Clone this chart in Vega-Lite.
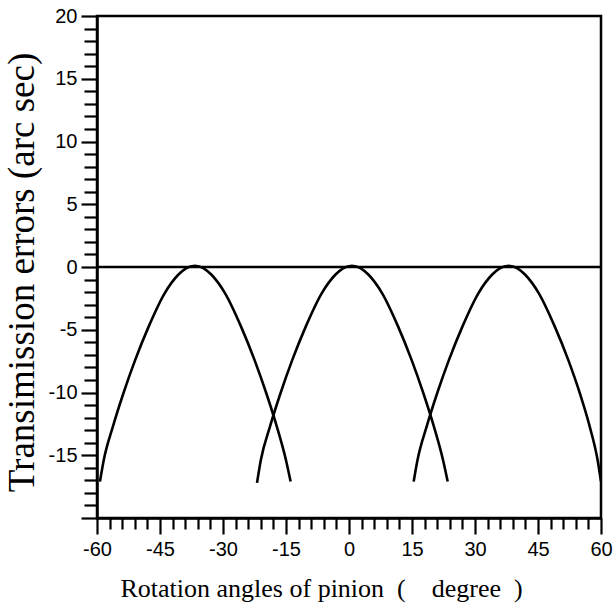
{
  "$schema": "https://vega.github.io/schema/vega-lite/v6.json",
  "autosize": "none",
  "padding": {"left": 97, "top": 16, "right": 12, "bottom": 90},
  "width": 504,
  "height": 502,
  "background": "white",
  "config": {
    "view": {"stroke": "black", "strokeWidth": 2.5},
    "axis": {"grid": false, "domainColor": "black", "domainWidth": 2.5, "tickColor": "black", "tickWidth": 2.2, "labelColor": "black", "titleColor": "black", "labelFont": "Liberation Sans", "labelFontSize": 20, "titleFont": "Liberation Serif", "titleFontWeight": "normal"}
  },
  "data": {"values": [
    {"s": "base", "x": -60, "y": 0},
    {"s": "base", "x": 60, "y": 0},
    {"s": "c1", "x": -59.3, "y": -17.1},
    {"s": "c1", "x": -58.4, "y": -15.4},
    {"s": "c1", "x": -56.2, "y": -12.7},
    {"s": "c1", "x": -53.75, "y": -10.1},
    {"s": "c1", "x": -50.9, "y": -7.4},
    {"s": "c1", "x": -47.7, "y": -4.75},
    {"s": "c1", "x": -43.9, "y": -2.1},
    {"s": "c1", "x": -40.6, "y": -0.6},
    {"s": "c1", "x": -38.8, "y": -0.1},
    {"s": "c1", "x": -36.7, "y": 0.1},
    {"s": "c1", "x": -34.6, "y": -0.1},
    {"s": "c1", "x": -32.8, "y": -0.6},
    {"s": "c1", "x": -29.5, "y": -2.1},
    {"s": "c1", "x": -25.7, "y": -4.75},
    {"s": "c1", "x": -22.5, "y": -7.4},
    {"s": "c1", "x": -19.65, "y": -10.1},
    {"s": "c1", "x": -17.2, "y": -12.7},
    {"s": "c1", "x": -15.0, "y": -15.4},
    {"s": "c1", "x": -13.9, "y": -17.1},
    {"s": "c2", "x": -21.9, "y": -17.2},
    {"s": "c2", "x": -21.0, "y": -15.4},
    {"s": "c2", "x": -18.8, "y": -12.7},
    {"s": "c2", "x": -16.35, "y": -10.1},
    {"s": "c2", "x": -13.5, "y": -7.4},
    {"s": "c2", "x": -10.3, "y": -4.75},
    {"s": "c2", "x": -6.5, "y": -2.1},
    {"s": "c2", "x": -3.2, "y": -0.6},
    {"s": "c2", "x": -1.4, "y": -0.1},
    {"s": "c2", "x": 0.7, "y": 0.1},
    {"s": "c2", "x": 2.8, "y": -0.1},
    {"s": "c2", "x": 4.6, "y": -0.6},
    {"s": "c2", "x": 7.9, "y": -2.1},
    {"s": "c2", "x": 11.7, "y": -4.75},
    {"s": "c2", "x": 14.9, "y": -7.4},
    {"s": "c2", "x": 17.75, "y": -10.1},
    {"s": "c2", "x": 20.2, "y": -12.7},
    {"s": "c2", "x": 22.4, "y": -15.4},
    {"s": "c2", "x": 23.5, "y": -17.1},
    {"s": "c3", "x": 15.4, "y": -17.1},
    {"s": "c3", "x": 16.3, "y": -15.4},
    {"s": "c3", "x": 18.5, "y": -12.7},
    {"s": "c3", "x": 20.95, "y": -10.1},
    {"s": "c3", "x": 23.8, "y": -7.4},
    {"s": "c3", "x": 27.0, "y": -4.75},
    {"s": "c3", "x": 30.8, "y": -2.1},
    {"s": "c3", "x": 34.1, "y": -0.6},
    {"s": "c3", "x": 35.9, "y": -0.1},
    {"s": "c3", "x": 38.0, "y": 0.1},
    {"s": "c3", "x": 40.1, "y": -0.1},
    {"s": "c3", "x": 41.9, "y": -0.6},
    {"s": "c3", "x": 45.2, "y": -2.1},
    {"s": "c3", "x": 49.0, "y": -4.75},
    {"s": "c3", "x": 52.2, "y": -7.4},
    {"s": "c3", "x": 55.0, "y": -10.1},
    {"s": "c3", "x": 57.3, "y": -12.7},
    {"s": "c3", "x": 59.2, "y": -15.4},
    {"s": "c3", "x": 60.0, "y": -17.1}
  ]},
  "mark": {"type": "line", "color": "black", "strokeWidth": 2.6, "interpolate": "monotone", "clip": true},
  "encoding": {
    "detail": {"field": "s", "type": "nominal"},
    "x": {
      "field": "x", "type": "quantitative",
      "scale": {"domain": [-60, 60], "nice": false, "zero": false},
      "axis": {
        "values": [-60,-57,-54,-51,-48,-45,-42,-39,-36,-33,-30,-27,-24,-21,-18,-15,-12,-9,-6,-3,0,3,6,9,12,15,18,21,24,27,30,33,36,39,42,45,48,51,54,57,60],
        "labelExpr": "datum.value % 15 === 0 ? toString(datum.value) : ''",
        "tickSize": {"condition": {"test": "datum.value % 15 === 0", "value": 16}, "value": 11},
        "labelPadding": 5,
        "labelOverlap": false,
        "labelFlush": false,
        "title": "Rotation angles of pinion\u00a0\u00a0(\u00a0\u00a0\u00a0\u00a0degree\u00a0\u00a0)",
        "titleFontSize": 26,
        "titleAnchor": "start",
        "titleAlign": "left",
        "titleBaseline": "alphabetic",
        "titleX": 23,
        "titleY": 78
      }
    },
    "y": {
      "field": "y", "type": "quantitative",
      "scale": {"domain": [-20, 20], "nice": false, "zero": false},
      "axis": {
        "values": [-20,-19,-18,-17,-16,-15,-14,-13,-12,-11,-10,-9,-8,-7,-6,-5,-4,-3,-2,-1,0,1,2,3,4,5,6,7,8,9,10,11,12,13,14,15,16,17,18,19,20],
        "labelExpr": "(datum.value % 5 === 0 && datum.value > -20) ? toString(datum.value) : ''",
        "tickSize": {"condition": {"test": "datum.value % 5 === 0", "value": 16}, "value": 13},
        "labelPadding": 4,
        "labelOverlap": false,
        "labelFlush": false,
        "title": "Transimission errors (arc sec)",
        "titleFontSize": 37,
        "titleAngle": 270,
        "titleAnchor": "middle",
        "titleAlign": "center",
        "titleBaseline": "alphabetic",
        "titleX": -64,
        "titleY": 256
      }
    }
  }
}
